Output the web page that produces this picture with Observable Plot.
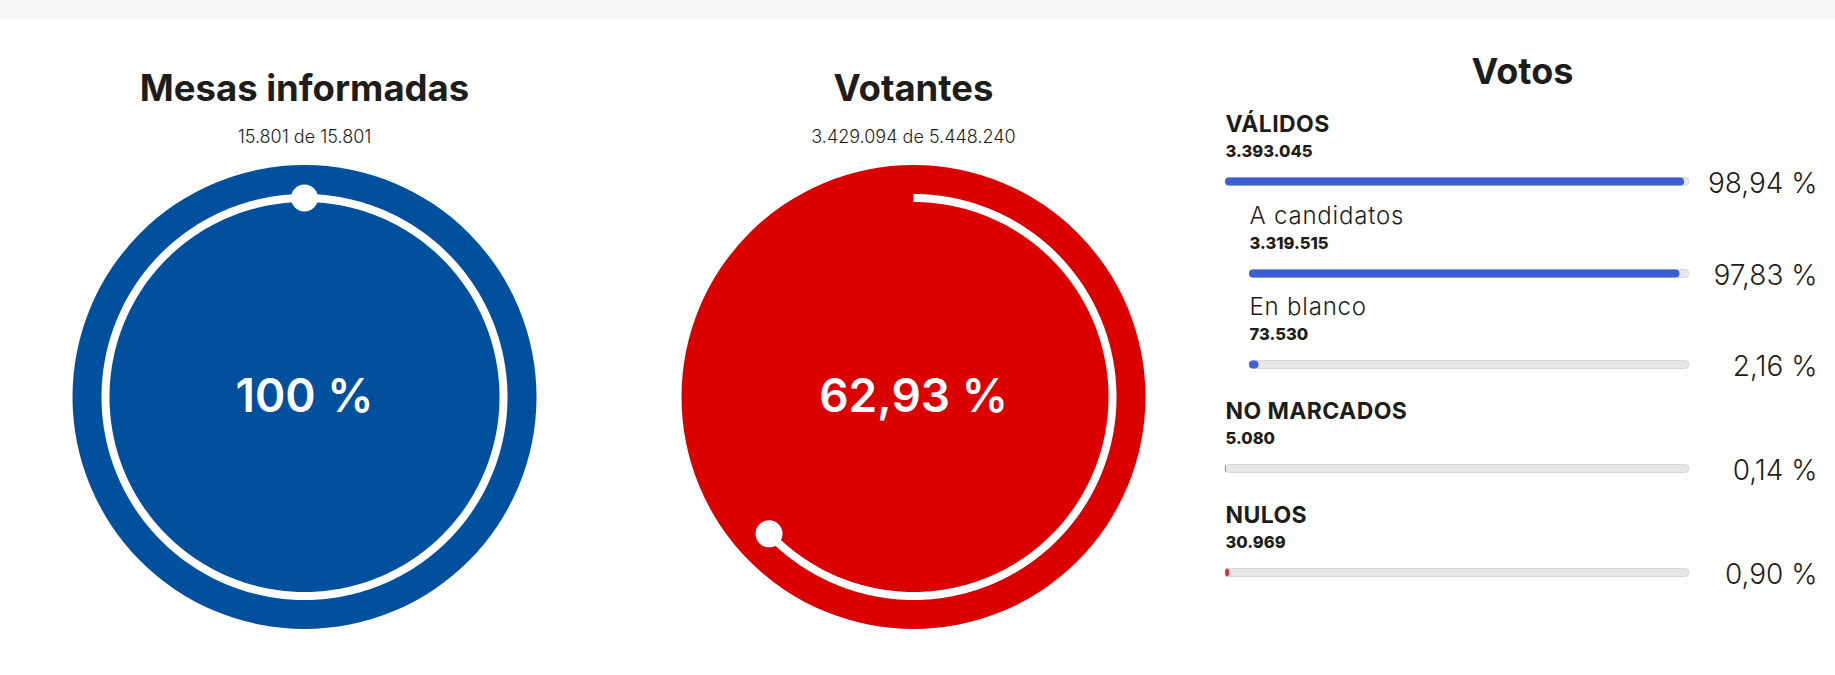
<!DOCTYPE html>
<html><head><meta charset="utf-8">
<script src="https://cdn.jsdelivr.net/npm/d3@7"></script>
<script src="https://cdn.jsdelivr.net/npm/@observablehq/plot@0.6"></script>
<style>
html,body{margin:0;padding:0;background:#fff;}
body{width:1835px;height:675px;position:relative;overflow:hidden;font-family:Inter,"Open Sans",sans-serif;color:#1d1d1b;}
#band{position:absolute;left:0;top:0;width:1835px;height:19px;background:#f7f7f7;}
.panel{position:absolute;}
.panel svg{display:block;overflow:visible;}
</style></head><body>
<div id="band"></div>
<script>
// ---- data ----
const gaugeTitles = ["Mesas informadas", "Votantes"];
const gaugeCounts = ["15.801", "3.429.094"];
const gaugeTotals = ["15.801", "5.448.240"];
const gaugePercents = [100, 62.93];
const gaugePercentLabels = ["100 %", "62,93 %"];

const voteTitle = "Votos";
const voteCategories = ["VÁLIDOS", "A candidatos", "En blanco", "NO MARCADOS", "NULOS"];
const voteCounts = ["3.393.045", "3.319.515", "73.530", "5.080", "30.969"];
const votePercents = [98.94, 97.83, 2.16, 0.14, 0.90];
const votePercentLabels = ["98,94 %", "97,83 %", "2,16 %", "0,14 %", "0,90 %"];
const voteLevels = [0, 1, 1, 0, 0]; // 0 = main row, 1 = sub row

// ---- style / layout ----
const FONT = 'Inter, "Open Sans", sans-serif';
const INK = "#1d1d1b";
const gaugeColors = ["#00509d", "#da0000"];
const gaugeCenters = [304, 913];
const GAUGE_CY = 396.5, GAUGE_R = 232, RING_R = 199, PANEL_W = 560, H = 675;
const rowTops = [109, 201, 292, 396, 500];
const barColor = i => voteCategories[i] === "NULOS" ? "#d8343c" : "#3c5fd5";

function place(node, left, top) {
  const d = document.createElement("div");
  d.className = "panel";
  d.style.left = left + "px";
  d.style.top = top + "px";
  d.appendChild(node);
  document.body.appendChild(d);
}

function gauge(i) {
  const p = gaugePercents[i];
  const n = 360;
  const arc = d3.range(n + 1).map(k => {
    const t = (k / n) * (p / 100) * 2 * Math.PI;
    return {x: RING_R * Math.sin(t), y: -RING_R * Math.cos(t)};
  });
  const end = arc[arc.length - 1];
  const cy = GAUGE_CY;
  return Plot.plot({
    width: PANEL_W, height: H, margin: 0,
    style: {background: "transparent", fontFamily: FONT, overflow: "visible"},
    x: {domain: [-PANEL_W / 2, PANEL_W / 2], range: [0, PANEL_W], axis: null},
    y: {domain: [-cy, H - cy], range: [0, H], axis: null},
    marks: [
      Plot.text([gaugeTitles[i]], {x: 0, y: 100 - cy, text: d => d, fontSize: 36.5, fontWeight: 700, fill: INK, lineAnchor: "bottom"}),
      Plot.text([`${gaugeCounts[i]} de ${gaugeTotals[i]}`], {x: 0, y: 142 - cy, text: d => d, fontSize: 18, fontWeight: 300, fill: INK, lineAnchor: "bottom"}),
      Plot.dot([p], {x: 0, y: 0, r: GAUGE_R, fill: gaugeColors[i]}),
      Plot.line(arc, {x: "x", y: "y", stroke: "white", strokeWidth: 8, strokeLinecap: "butt", curve: "linear"}),
      Plot.dot([end], {x: "x", y: "y", r: 13.5, fill: "white"}),
      Plot.text([gaugePercentLabels[i]], {x: 0, y: 0, text: d => d, fontSize: 46, fontWeight: 600, fill: "white", lineAnchor: "middle"})
    ]
  });
}

function title() {
  const W = 610;
  return Plot.plot({
    width: W, height: 100, margin: 0,
    style: {background: "transparent", fontFamily: FONT, overflow: "visible"},
    x: {domain: [0, W], range: [0, W], axis: null},
    y: {domain: [0, 100], range: [0, 100], axis: null},
    marks: [
      Plot.text([voteTitle], {x: 1522 - 1225, y: 83, text: d => d, fontSize: 36, fontWeight: 700, fill: INK, lineAnchor: "bottom"})
    ]
  });
}

function voteRow(i) {
  const left = voteLevels[i] ? 1249 : 1225;
  const W = 1835 - left, RH = 95;
  const barEnd = 1689 - left;
  const sub = voteLevels[i] === 1;
  const plot = Plot.plot({
    width: W, height: RH, marginLeft: 0, marginRight: W - barEnd, marginTop: 0, marginBottom: 0,
    style: {background: "transparent", fontFamily: FONT, overflow: "visible"},
    x: {domain: [0, 100], axis: null},
    y: {domain: [0, RH], range: [0, RH], axis: null},
    marks: [
      Plot.text([voteCategories[i]], {x: 0, y: 22, text: d => d, textAnchor: "start", lineAnchor: "bottom", fontSize: sub ? 24 : 23, fontWeight: sub ? 300 : 700, fill: INK, className: sub ? "lab-sub" : "lab-main"}),
      Plot.text([voteCounts[i]], {x: 0, y: 47, text: d => d, textAnchor: "start", lineAnchor: "bottom", fontSize: 16.5, fontWeight: 800, fill: INK}),
      Plot.rect([100], {x1: 0, x2: d => d, y1: 68.5, y2: 76.5, fill: "#e8e8ea", stroke: "#d8d8da", strokeWidth: 1, rx: 4}),
      Plot.rect([votePercents[i]], {x1: 0, x2: d => d, y1: 68.5, y2: 76.5, fill: barColor(i), rx: 4}),
      Plot.text([votePercentLabels[i]], {x: 100, dx: 128, y: 83, text: d => d, textAnchor: "end", lineAnchor: "bottom", fontSize: 28, fontWeight: 300, fill: INK})
    ]
  });
  d3.select(plot).selectAll(".lab-sub text").attr("letter-spacing", "0.8px");
  d3.select(plot).selectAll(".lab-main text").attr("letter-spacing", "0.4px");
  return [left, plot];
}

gaugePercents.forEach((_, i) => place(gauge(i), gaugeCenters[i] - PANEL_W / 2, 0));
place(title(), 1225, 0);
voteCategories.forEach((_, i) => { const [left, node] = voteRow(i); place(node, left, rowTops[i]); });
</script>
</body></html>
